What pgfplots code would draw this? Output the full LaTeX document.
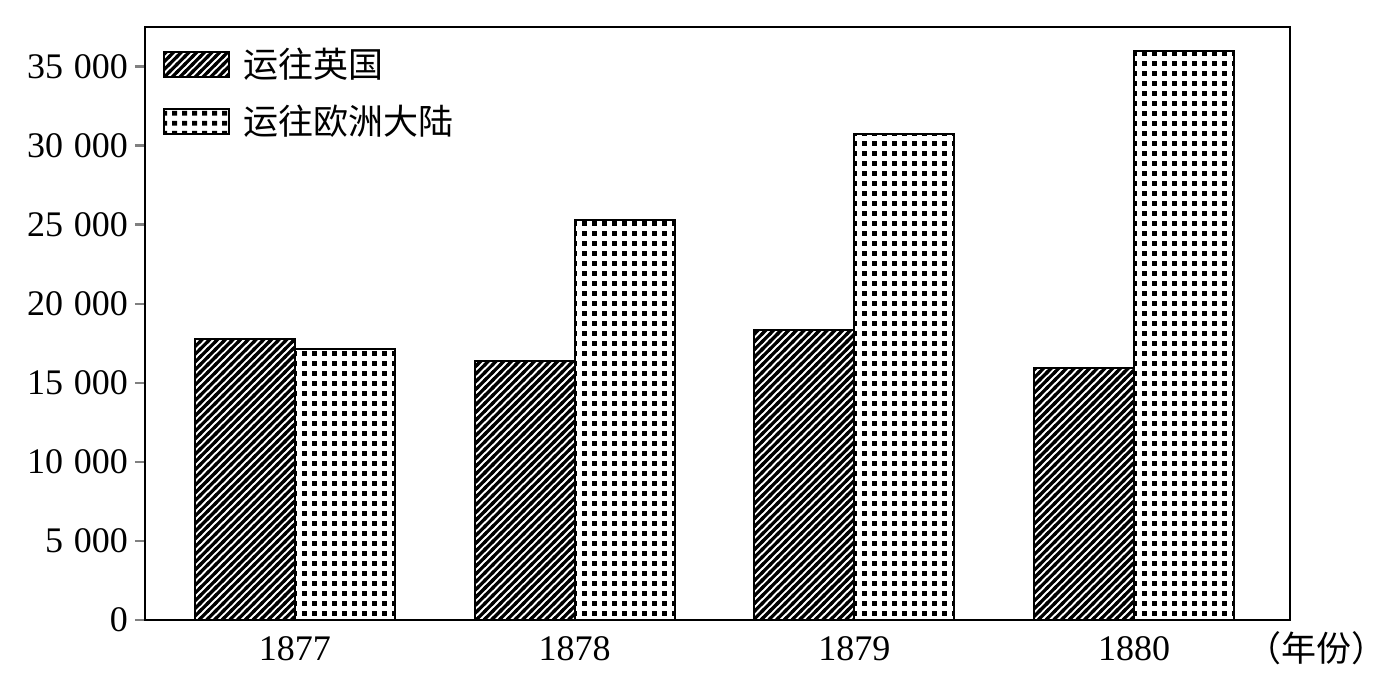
\documentclass[border=0pt]{standalone}
\usepackage{fontspec}
\setmainfont{Liberation Serif}
\newfontfamily\cjk{Noto Sans CJK SC}
\usepackage{pgfplots}
\pgfplotsset{compat=1.18}
\usetikzlibrary{patterns}
\pgfdeclarepatternformonly{sqdots}{\pgfqpoint{0pt}{0pt}}{\pgfqpoint{5pt}{5pt}}{\pgfqpoint{5pt}{5pt}}{%
  \pgfpathrectangle{\pgfqpoint{1.2pt}{1.2pt}}{\pgfqpoint{2.6pt}{2.6pt}}\pgfusepath{fill}}
\pgfdeclarepatternformonly{mystripes}{\pgfqpoint{-1pt}{-1pt}}{\pgfqpoint{4.85pt}{4.85pt}}{\pgfqpoint{3.85pt}{3.85pt}}{%
  \pgfsetlinewidth{1.6pt}\pgfpathmoveto{\pgfqpoint{-1pt}{-1pt}}\pgfpathlineto{\pgfqpoint{4.85pt}{4.85pt}}\pgfusepath{stroke}}
\begin{document}
\begin{tikzpicture}
\pgfplotstableread{
x uk eu
0 17780 17150
1 16390 25320
2 18350 30760
3 15950 36010
}\datatable
\begin{axis}[
  scale only axis,
  width=572.5pt, height=296.5pt,
  xmin=-0.536, xmax=3.557,
  ymin=0, ymax=37500,
  scaled y ticks=false,
  ybar=0pt, bar width=50pt,
  axis line style={line width=1.2pt},
  xtick={0,1,2,3},
  xticklabels={1877,1878,1879,1880},
  xtick style={draw=none},
  ytick={0,5000,10000,15000,20000,25000,30000,35000},
  yticklabels={0,5\hspace{0.3em}000,10\hspace{0.3em}000,15\hspace{0.3em}000,20\hspace{0.3em}000,25\hspace{0.3em}000,30\hspace{0.3em}000,35\hspace{0.3em}000},
  ytick pos=left,
  tick align=outside,
  major tick length=5pt,
  ytick style={line width=1.2pt},
  /pgf/number format/assume math mode=true,
  ticklabel style={font=\fontsize{18pt}{20pt}\selectfont},
  legend style={draw=none, fill=none, at={(axis description cs:0,1)}, anchor=north west,
    xshift=6pt, yshift=-5.5pt,
    font=\fontsize{17.5pt}{20pt}\selectfont\cjk,
    row sep=6pt, legend cell align=left,
    nodes={inner sep=3pt}},
  legend image code/.code={\draw[#1, line width=1pt] (0pt,-6.3pt) rectangle (32.5pt,6.3pt); \path (36pt,0pt);},
  clip=false,
]
\addplot[draw=black, line width=1pt, pattern=mystripes] table[x=x,y=uk] {\datatable};
\addplot[draw=black, line width=1pt, pattern=sqdots] table[x=x,y=eu] {\datatable};
\legend{运往英国,运往欧洲大陆}
\node[font=\fontsize{17.5pt}{20pt}\selectfont\cjk] at (rel axis cs:1,0) [xshift=13pt, yshift=-14pt] {（年份）};
\end{axis}
\pgfresetboundingbox
\path (-72.5pt,-34pt) rectangle (624pt,310pt);
\end{tikzpicture}
\end{document}
